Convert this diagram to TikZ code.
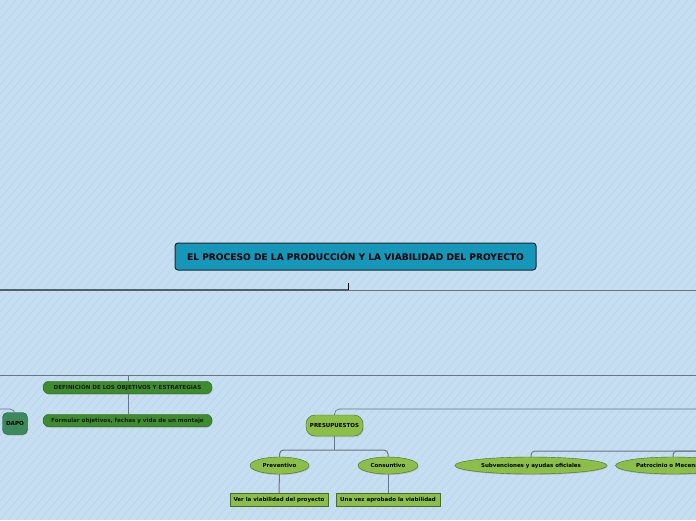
\documentclass[tikz,border=0pt]{standalone}
\usepackage{fontspec}
\setmainfont{DejaVu Sans}
\usetikzlibrary{shapes.geometric,shadows}
\definecolor{bgblue}{HTML}{C6DEF1}
\definecolor{stripe}{HTML}{B9D3E8}
\definecolor{teal}{HTML}{1597BA}
\definecolor{darkgreen}{HTML}{3D8D2E}
\definecolor{dapogreen}{HTML}{3A8A5C}
\definecolor{lightgreen}{HTML}{8CBF48}
\definecolor{linegray}{HTML}{6A7782}

\begin{document}
\begin{tikzpicture}[x=1pt,y=-1pt,
		shade/.style={drop shadow={shadow xshift=0.6pt,shadow yshift=-1pt,opacity=.35}},
		title/.style={draw=black!85,line width=1pt,fill=teal,rounded corners=3pt,
			minimum width=361pt,minimum height=27pt,font=\bfseries\fontsize{9.1}{11}\selectfont},
		goal/.style={draw=darkgreen!70!black,fill=darkgreen,rounded corners=6pt,shade,
			minimum width=169pt,minimum height=12.5pt,inner sep=0pt,text=black!90,
			font=\bfseries\fontsize{5.6}{7}\selectfont},
		topic/.style={draw=lightgreen!55!black,fill=lightgreen,shade,inner sep=0pt,
			font=\bfseries\fontsize{5.5}{7}\selectfont},
		oval/.style={topic,ellipse,minimum height=17pt},
		leaf/.style={topic,minimum height=13pt,rounded corners=0pt},
		link/.style={draw=linegray,line width=1pt,rounded corners=4pt},
		trunk/.style={draw=linegray!80!black,line width=1.6pt}
		]
		\useasboundingbox (0,0) rectangle (696,520);
		\clip (0,0) rectangle (696,520);
		\fill[bgblue] (0,0) rectangle (696,520);
		\foreach \i in {-440,-432,...,696}
			\draw[stripe,line width=.5pt] (\i,520) -- ++(440,-520);
		
		\node[title] (root) at (355.5,256.5) {EL PROCESO DE LA PRODUCCIÓN Y LA VIABILIDAD DEL PROYECTO};
		
		\coordinate (w1) at (0,290);
		\coordinate (hub) at (348,290);
		\coordinate (e1) at (696,290);
		\coordinate (tick) at (348,283);
		\draw[trunk] (w1) -- (hub);
		\draw[link] (hub) -- (e1);
		\draw[black,line width=.8pt] (tick) -- (hub);
		
		\coordinate (w2) at (0,375);
		\coordinate (e2) at (696,375);
		\coordinate (hub2) at (128,375);
		\draw[link] (w2) -- (e2);
		
		\node[goal] (defin) at (127.5,387.5) {DEFINICIÓN DE LOS OBJETIVOS Y ESTRATEGIAS};
		\node[goal] (formul) at (127.5,420.5) {Formular objetivos, fechas y vida de un montaje};
		\draw[link] (hub2) -- (defin.north -| hub2);
		\draw[link] (defin.south -| hub2) -- (formul.north -| hub2);
		
		\node[draw=dapogreen!60!black,fill=dapogreen,rounded corners=5pt,shade,
			minimum width=25pt,minimum height=22pt,inner sep=0pt,
			font=\bfseries\fontsize{5.6}{7}\selectfont] (dapo) at (15,423.5) {DAPO};
		\coordinate (w3) at (0,409);
		\draw[link,line width=.7pt,rounded corners=5pt] (w3) -| (dapo.north);
		
		\node[topic,rounded corners=9pt,minimum width=57pt,minimum height=21pt] (presu) at (334.5,425.5) {PRESUPUESTOS};
		\coordinate (e3) at (696,409);
		\draw[link,line width=.7pt,rounded corners=5pt] (presu.north) |- (e3);
		
		\node[oval,minimum width=59pt] (prev) at (279.5,465.5) {Preventivo};
		\node[oval,minimum width=60pt] (cons) at (388,465.5) {Consuntivo};
		\coordinate (fork) at (334.5,450);
		\draw[link,line width=1.4pt,rounded corners=0pt] (presu.south) -- (fork);
		\draw[link] (fork) -| (prev.north);
		\draw[link] (fork) -| (cons.north);
		
		\node[leaf,minimum width=98pt] (ver) at (279,499.5) {Ver la viabilidad del proyecto};
		\node[leaf,minimum width=104pt] (una) at (388,499.5) {Una vez aprobado la viabilidad};
		\draw[link] (prev) -- (ver);
		\draw[link] (cons) -- (una);
		
		\node[oval,minimum width=152pt] (subv) at (531,465.5) {Subvenciones y ayudas oficiales};
		\node[oval,minimum width=115pt] (patro) at (673,465.5) {Patrocinio o Mecenazgo};
		\coordinate (e4) at (696,451);
		\draw[link] (subv.north) |- (e4);
		\draw[link] (patro.north) |- (e4);
	\end{tikzpicture}
\end{document}
